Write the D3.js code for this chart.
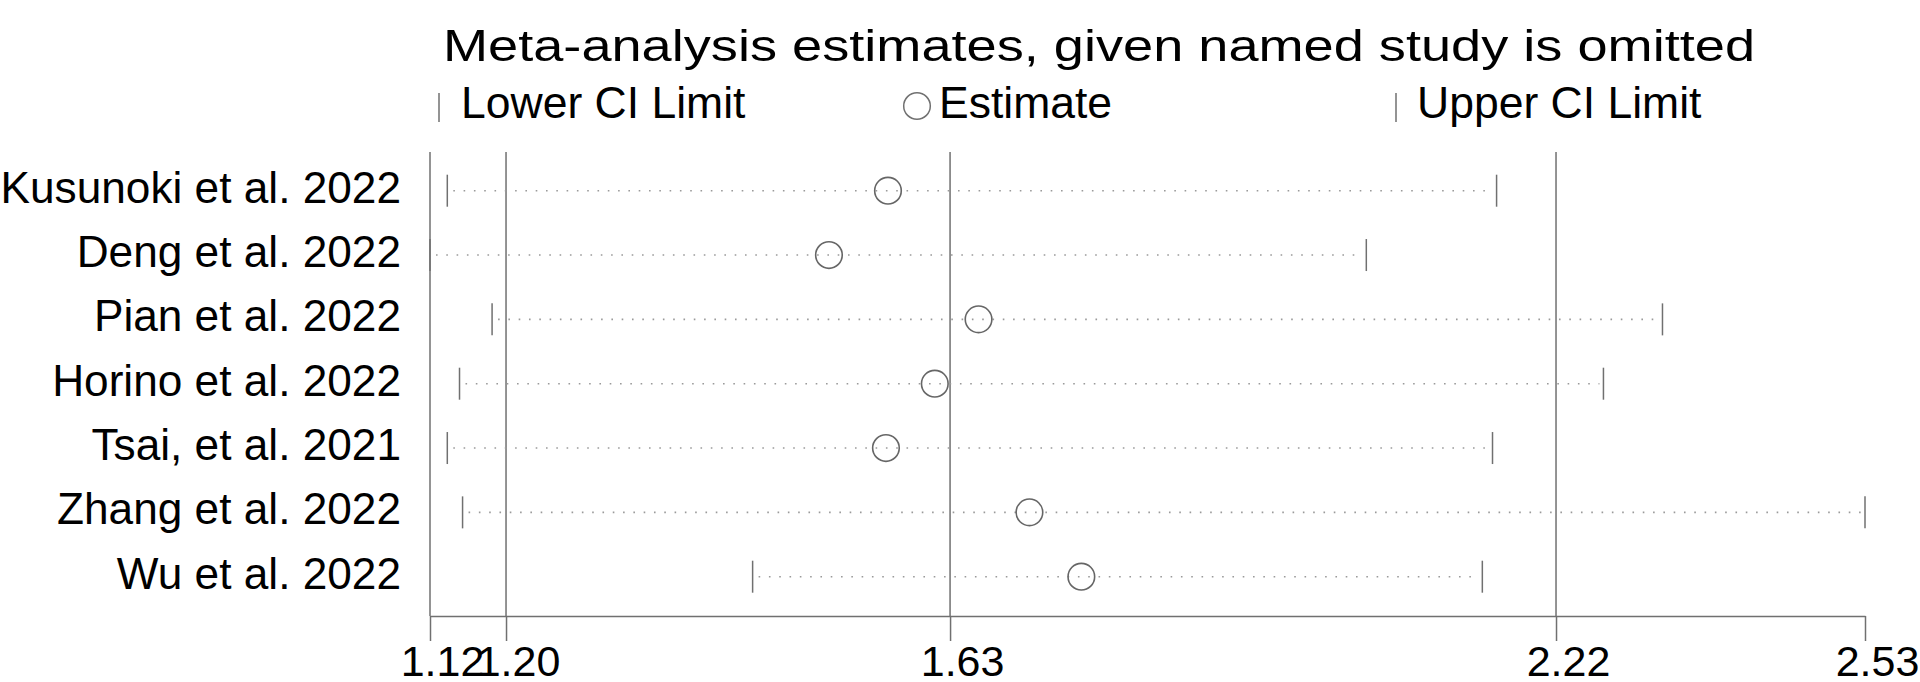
<!DOCTYPE html>
<html>
<head>
    <title>Meta-analysis influence plot</title>
    <script src="https://cdnjs.cloudflare.com/ajax/libs/d3/7.8.5/d3.min.js" charset="utf-8"></script>
    <style>
        body { margin: 0; background: #fff; }
        text { font-family: "Liberation Sans", Arial, Helvetica, sans-serif; fill: #000; }
    </style>
</head>
<body>
<script type="text/javascript">
// data
var studies = ["Kusunoki et al. 2022", "Deng et al. 2022", "Pian et al. 2022", "Horino et al. 2022",
               "Tsai, et al. 2021", "Zhang et al. 2022", "Wu et al. 2022"];
var lowerCI  = [1.137, 1.120, 1.181, 1.149, 1.137, 1.152, 1.437];
var estimate = [1.570, 1.512, 1.659, 1.616, 1.568, 1.709, 1.760];
var upperCI  = [2.168, 2.040, 2.331, 2.273, 2.164, 2.530, 2.154];

var tickValues = [1.12, 1.1947, 1.631, 2.2264, 2.53];
var tickLabels = ["1.12", "1.20", "1.63", "2.22", "2.53"];
var gridValues = [1.1947, 1.631, 2.2264];

var title = "Meta-analysis estimates, given named study is omitted";
var legendLabels = ["Lower CI Limit", "Estimate", "Upper CI Limit"];

//sizes
var w = 1920;
var h = 682;
var plotTop = 152;
var axisY = 616;
var tickLen = 25;
var lineCol = "#707070";
var fs = 44.5;

var svg = d3.select("body")
    .append("svg")
    .attr("width", w)
    .attr("height", h);

svg.append("rect").attr("width", w).attr("height", h).attr("fill", "#fff");

var x = d3.scaleLinear().domain([1.12, 2.53]).range([430, 1865]);
var y = d3.scalePoint().domain(studies).range([190.7, 576.7]);

var rows = studies.map(function(s, i) {
    return { name: s, lo: lowerCI[i], est: estimate[i], hi: upperCI[i] };
});

// title + legend
svg.append("text")
    .attr("x", 443).attr("y", 61)
    .attr("font-size", 44)
    .attr("textLength", 1312)
    .attr("lengthAdjust", "spacingAndGlyphs")
    .text(title);

var lg = svg.append("g");
lg.append("line").attr("x1", 439).attr("x2", 439).attr("y1", 93).attr("y2", 122)
    .attr("stroke", lineCol).attr("stroke-width", 1.5);
lg.append("text").attr("x", 461).attr("y", 118).attr("font-size", fs).text(legendLabels[0]);
lg.append("circle").attr("cx", 917).attr("cy", 106).attr("r", 13.3)
    .attr("fill", "none").attr("stroke", lineCol).attr("stroke-width", 1.5);
lg.append("text").attr("x", 939).attr("y", 118).attr("font-size", fs).text(legendLabels[1]);
lg.append("line").attr("x1", 1396).attr("x2", 1396).attr("y1", 93).attr("y2", 122)
    .attr("stroke", lineCol).attr("stroke-width", 1.5);
lg.append("text").attr("x", 1417).attr("y", 118).attr("font-size", fs).text(legendLabels[2]);

// x axis
var xAxis = d3.axisBottom(x)
    .tickValues(tickValues)
    .tickSize(tickLen)
    .tickSizeOuter(0)
    .tickFormat(function(d, i) { return tickLabels[i]; });

var ax = svg.append("g")
    .attr("transform", "translate(0," + axisY + ")")
    .call(xAxis);
ax.select(".domain").attr("stroke", lineCol).attr("stroke-width", 1.5);
ax.selectAll(".tick line").attr("stroke", lineCol).attr("stroke-width", 1.5);
ax.selectAll(".tick text")
    .attr("font-size", 43)
    .attr("font-family", "Liberation Sans, Arial, sans-serif")
    .attr("fill", "#000")
    .attr("y", 0)
    .attr("dy", 0)
    .attr("transform", "translate(12,60)");

// left axis line
svg.append("line")
    .attr("x1", x(1.12)).attr("x2", x(1.12))
    .attr("y1", plotTop).attr("y2", axisY)
    .attr("stroke", lineCol).attr("stroke-width", 1.5);

// gridlines at overall lower, estimate, upper
svg.selectAll(".grid")
    .data(gridValues)
    .enter().append("line")
    .attr("class", "grid")
    .attr("x1", function(d) { return x(d); })
    .attr("x2", function(d) { return x(d); })
    .attr("y1", plotTop).attr("y2", axisY)
    .attr("stroke", lineCol).attr("stroke-width", 1.5);

// study labels
svg.selectAll(".lab")
    .data(rows)
    .enter().append("text")
    .attr("class", "lab")
    .attr("x", 401)
    .attr("y", function(d) { return y(d.name) + 12; })
    .attr("text-anchor", "end")
    .attr("font-size", 44.2)
    .text(function(d) { return d.name; });

// dotted CI lines
svg.selectAll(".ci")
    .data(rows)
    .enter().append("line")
    .attr("class", "ci")
    .attr("x1", function(d) { return x(d.lo) + 6; })
    .attr("x2", function(d) { return x(d.hi) - 4; })
    .attr("y1", function(d) { return y(d.name); })
    .attr("y2", function(d) { return y(d.name); })
    .attr("stroke", "#9a9a9a")
    .attr("stroke-width", 1.6)
    .attr("stroke-dasharray", "1.6 8.7");

// lower and upper CI ticks
["lo", "hi"].forEach(function(k) {
    svg.selectAll(".tk" + k)
        .data(rows)
        .enter().append("line")
        .attr("class", "tk" + k)
        .attr("x1", function(d) { return x(d[k]); })
        .attr("x2", function(d) { return x(d[k]); })
        .attr("y1", function(d) { return y(d.name) - 16; })
        .attr("y2", function(d) { return y(d.name) + 16; })
        .attr("stroke", lineCol)
        .attr("stroke-width", 1.5);
});

// estimates
svg.selectAll(".est")
    .data(rows)
    .enter().append("circle")
    .attr("class", "est")
    .attr("cx", function(d) { return x(d.est); })
    .attr("cy", function(d) { return y(d.name); })
    .attr("r", 13.3)
    .attr("fill", "none")
    .attr("stroke", "#666")
    .attr("stroke-width", 1.6);
</script>
</body>
</html>
